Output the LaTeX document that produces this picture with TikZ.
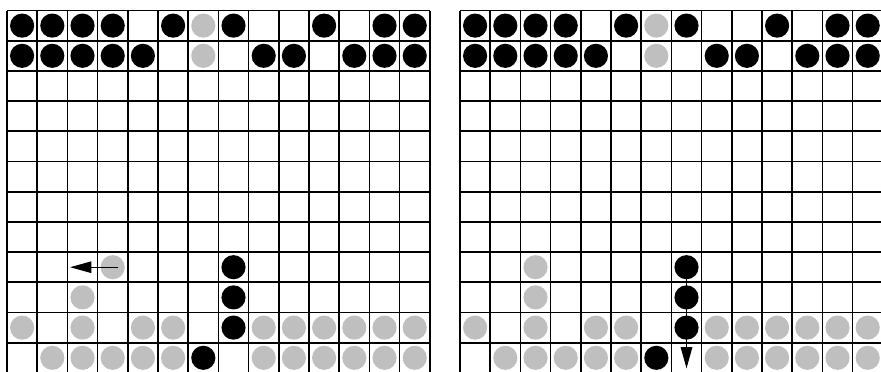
\documentclass[tikz,border=0pt]{standalone}
\usepackage{tikz}
\usetikzlibrary{positioning,arrows.meta}
\definecolor{stonegray}{gray}{0.75}
\begin{document}
\begin{tikzpicture}[
  board/.style={line width=1.6pt},
  stone/.style={circle,inner sep=0pt,minimum size=0.8cm},
  blackstone/.style={stone,fill=black},
  graystone/.style={stone,fill=stonegray},
  move/.style={line width=0.9pt,-{Triangle[length=0.7cm,width=0.38cm]}}
]
\useasboundingbox (-0.232,-11.94) rectangle (28.94,0.348);
\foreach \ox/\bd in {0/L,15/R} {
  \draw[board] (\ox,0) grid (\ox+14,-12);
  \foreach \c/\r in {1/1,2/1,3/1,4/1,6/1,8/1,11/1,13/1,14/1,
                     1/2,2/2,3/2,4/2,5/2,9/2,10/2,12/2,13/2,14/2,
                     8/9,8/10,8/11,7/12}
    \node[blackstone] (\bd-\c-\r) at (\ox+\c-0.5,-\r+0.5) {};
  \foreach \c/\r in {7/1,7/2,3/10,1/11,3/11,5/11,6/11}
    \node[graystone] (\bd-\c-\r) at (\ox+\c-0.5,-\r+0.5) {};
  \foreach \c in {9,...,14} {
    \node[graystone] (\bd-\c-11) at (\ox+\c-0.5,-10.5) {};
    \node[graystone] (\bd-\c-12) at (\ox+\c-0.5,-11.5) {};
  }
  \foreach \c in {2,...,6}
    \node[graystone] (\bd-\c-12) at (\ox+\c-0.5,-11.5) {};
}
\node[graystone] (L-4-9) at (3.5,-8.5) {};
\node[graystone] (R-3-9) at (17.5,-8.5) {};
\coordinate (ltip) at (2.09,-8.5);
\coordinate (rtip) at (22.5,-11.85);
\draw[move] ([xshift=0.18cm]L-4-9.center) -- (ltip);
\draw[move] (R-8-9.center) -- (rtip);
\end{tikzpicture}
\end{document}
